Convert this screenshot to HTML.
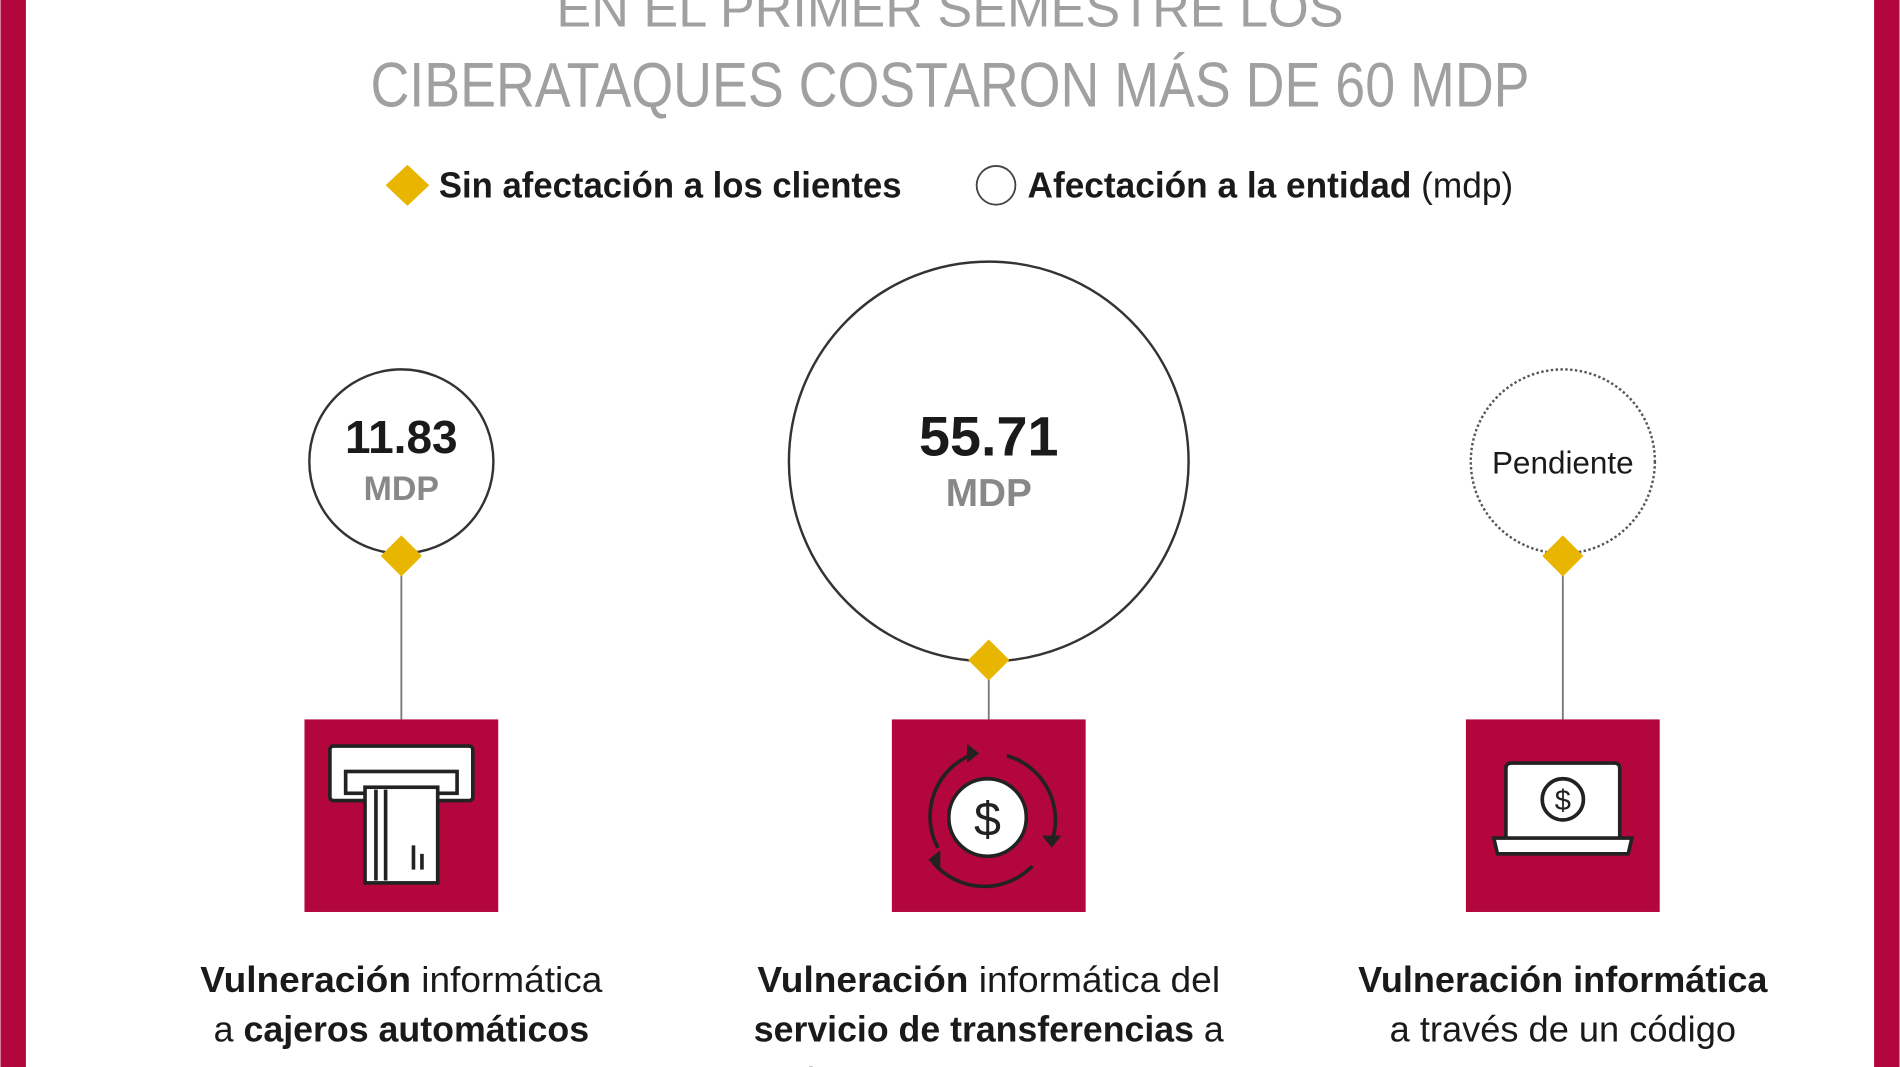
<!DOCTYPE html>
<html><head><meta charset="utf-8"><style>
html,body{margin:0;padding:0;background:#fff;overflow:hidden}
svg{display:block}
text{font-family:"Liberation Sans",sans-serif}
</style></head><body>
<svg width="1900" height="1067" viewBox="0 0 1568 881" xmlns="http://www.w3.org/2000/svg">
<rect width="1568" height="881" fill="#fff"/>
<rect x="0" y="0" width="21" height="881" fill="#b3063c"/>
<rect x="1547" y="0" width="21" height="881" fill="#b3063c"/>
<text x="784" y="22" text-anchor="middle" font-size="44" fill="#a0a0a0" textLength="650" lengthAdjust="spacingAndGlyphs">EN EL PRIMER SEMESTRE LOS</text>
<text x="784" y="88" text-anchor="middle" font-size="52" fill="#a0a0a0" textLength="957" lengthAdjust="spacingAndGlyphs">CIBERATAQUES COSTARON MÁS DE 60 MDP</text>
<polygon points="336,136 354,153 336,170 318,153" fill="#e8b500"/>
<text x="362" y="163" font-size="30" font-weight="bold" fill="#1a1a1a" textLength="382" lengthAdjust="spacingAndGlyphs">Sin afectación a los clientes</text>
<circle cx="822" cy="153" r="16" fill="#fff" stroke="#444" stroke-width="1.5"/>
<text x="848" y="163" font-size="30" fill="#1a1a1a" textLength="401" lengthAdjust="spacingAndGlyphs"><tspan font-weight="bold">Afectación a la entidad</tspan> (mdp)</text>
<g stroke="#777" stroke-width="1.5">
<line x1="331" y1="459" x2="331" y2="594"/>
<line x1="816" y1="545" x2="816" y2="594"/>
<line x1="1290" y1="459" x2="1290" y2="594"/>
</g>
<circle cx="331" cy="381" r="76" fill="#fff" stroke="#333" stroke-width="2"/>
<text x="331" y="374" text-anchor="middle" font-size="38" font-weight="bold" fill="#1a1a1a">11.83</text>
<text x="331" y="413" text-anchor="middle" font-size="28" font-weight="bold" fill="#888">MDP</text>
<circle cx="816" cy="381" r="165" fill="#fff" stroke="#333" stroke-width="2"/>
<text x="816" y="376" text-anchor="middle" font-size="46" font-weight="bold" fill="#1a1a1a">55.71</text>
<text x="816" y="418" text-anchor="middle" font-size="32" font-weight="bold" fill="#888">MDP</text>
<circle cx="1290" cy="381" r="76" fill="#fff" stroke="#555" stroke-width="2" stroke-dasharray="2,2"/>
<text x="1290" y="391" text-anchor="middle" font-size="26" fill="#1a1a1a">Pendiente</text>
<g fill="#e8b500">
<polygon points="331,442 348,459 331,476 314,459"/>
<polygon points="816,528 833,545 816,562 799,545"/>
<polygon points="1290,442 1307,459 1290,476 1273,459"/>
</g>
<g fill="#b3063c">
<rect x="251" y="594" width="160" height="159"/>
<rect x="736" y="594" width="160" height="159"/>
<rect x="1210" y="594" width="160" height="159"/>
</g>
<g stroke="#222" stroke-width="3" fill="#fff">
<rect x="272" y="616" width="118" height="45" rx="3"/>
<rect x="285" y="637" width="92" height="18"/>
<rect x="301" y="650" width="60" height="79"/>
<line x1="310" y1="652" x2="310" y2="727"/>
<line x1="318" y1="652" x2="318" y2="727"/>
<line x1="341" y1="698" x2="341" y2="718"/>
<line x1="348" y1="705" x2="348" y2="718"/>
</g>
<g fill="none" stroke="#222" stroke-width="3">
<path d="M 774 700 A 55 55 0 0 1 805 622"/>
<path d="M 831 624 A 55 55 0 0 1 868 695"/>
<path d="M 852 715 A 55 55 0 0 1 770 712"/>
</g>
<g fill="#222">
<polygon points="808,622 798,614 798,630"/>
<polygon points="868,700 860,690 876,690"/>
<polygon points="766,710 776,702 776,718"/>
</g>
<circle cx="815" cy="675" r="32" fill="#fff" stroke="#222" stroke-width="3"/>
<text x="815" y="690" text-anchor="middle" font-size="40" fill="#222">$</text>
<g stroke="#222" stroke-width="3" fill="#fff">
<rect x="1243" y="630" width="94" height="65" rx="4"/>
<path d="M 1233 692 L 1347 692 L 1344 705 L 1236 705 Z"/>
</g>
<circle cx="1290" cy="660" r="17" fill="#fff" stroke="#222" stroke-width="3"/>
<text x="1290" y="669" text-anchor="middle" font-size="24" fill="#222">$</text>
<g font-size="30" fill="#1a1a1a" text-anchor="middle">
<text x="331" y="819" textLength="332" lengthAdjust="spacingAndGlyphs"><tspan font-weight="bold">Vulneración</tspan> informática</text>
<text x="331" y="860" textLength="310" lengthAdjust="spacingAndGlyphs">a <tspan font-weight="bold">cajeros automáticos</tspan></text>
<text x="816" y="819" textLength="382" lengthAdjust="spacingAndGlyphs"><tspan font-weight="bold">Vulneración</tspan> informática del</text>
<text x="816" y="860" textLength="388" lengthAdjust="spacingAndGlyphs"><tspan font-weight="bold">servicio de transferencias</tspan> a</text>
<text x="816" y="903" textLength="410" lengthAdjust="spacingAndGlyphs">través de una falla en el sistema</text>
<text x="1290" y="819" font-weight="bold" textLength="338" lengthAdjust="spacingAndGlyphs">Vulneración informática</text>
<text x="1290" y="860" textLength="286" lengthAdjust="spacingAndGlyphs">a través de un código</text>
<text x="1290" y="903" textLength="340" lengthAdjust="spacingAndGlyphs">malicioso de tipo ransomware</text>
</g>
</svg>
</body></html>
